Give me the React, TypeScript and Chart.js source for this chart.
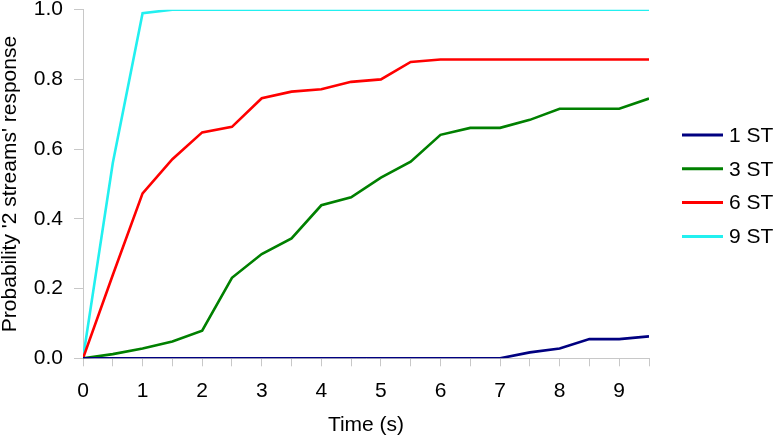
import React, { useEffect, useRef } from 'react';
import { Chart, registerables } from 'chart.js';

Chart.register(...registerables);

const FONT = '"Liberation Sans", Arial, sans-serif';

const times = [0, 0.5, 1, 1.5, 2, 2.5, 3, 3.5, 4, 4.5, 5, 5.5, 6, 6.5, 7, 7.5, 8, 8.5, 9, 9.5];
const seriesLabels = ['1 ST', '3 ST', '6 ST', '9 ST'];
const seriesColors = ['#000080', '#008000', '#ff0000', '#22f0f0'];
const st1 = [0, 0, 0, 0, 0, 0, 0, 0, 0, 0, 0, 0, 0, 0, 0, 0.017, 0.028, 0.055, 0.055, 0.063];
const st3 = [0, 0.012, 0.028, 0.048, 0.079, 0.231, 0.299, 0.344, 0.439, 0.462, 0.518, 0.564, 0.641, 0.661, 0.661, 0.684, 0.716, 0.716, 0.716, 0.745];
const st6 = [0, 0.239, 0.473, 0.571, 0.648, 0.664, 0.746, 0.765, 0.772, 0.793, 0.8, 0.85, 0.857, 0.857, 0.857, 0.857, 0.857, 0.857, 0.857, 0.857];
const st9 = [0, 0.56, 0.99, 1, 1, 1, 1, 1, 1, 1, 1, 1, 1, 1, 1, 1, 1, 1, 1, 1];
const yTitle = "Probability '2 streams' response";
const xTitle = 'Time (s)';

const legendPlugin = {
  id: 'customLegend',
  afterDraw(chart: any) {
    const ctx = chart.ctx;
    ctx.save();
    chart.data.datasets.forEach((ds: any, i: number) => {
      const y = 135 + i * 33.8;
      ctx.strokeStyle = ds.borderColor;
      ctx.lineWidth = 3;
      ctx.beginPath();
      ctx.moveTo(682, y);
      ctx.lineTo(723, y);
      ctx.stroke();
      ctx.fillStyle = '#000';
      ctx.font = `21px ${FONT}`;
      ctx.textBaseline = 'middle';
      ctx.textAlign = 'left';
      ctx.fillText(ds.label, 729, y + 1);
    });
    ctx.restore();
  },
};

export default function App() {
  const ref = useRef<HTMLCanvasElement | null>(null);
  useEffect(() => {
    if (!ref.current) return;
    const all = [st1, st3, st6, st9];
    const chart = new Chart(ref.current, {
      type: 'line',
      data: {
        datasets: all.map((arr, i) => ({
          label: seriesLabels[i],
          data: arr.map((v, j) => ({ x: times[j], y: v })),
          borderColor: seriesColors[i],
          backgroundColor: seriesColors[i],
          borderWidth: 2.6,
          pointRadius: 0,
          tension: 0,
          fill: false,
        })),
      },
      options: {
        animation: false,
        responsive: false,
        layout: { padding: { top: 0, right: 128, left: 0, bottom: 0 } },
        plugins: { legend: { display: false }, tooltip: { enabled: false } },
        scales: {
          x: {
            type: 'linear',
            min: 0,
            max: 9.5,
            afterFit: (s: any) => { s.height = 82.7; },
            grid: { drawOnChartArea: false, drawTicks: true, tickLength: 8, color: '#c8c8c8' },
            border: { display: true, color: '#c8c8c8', width: 1 },
            ticks: {
              stepSize: 0.5,
              autoSkip: false,
              maxRotation: 0,
              padding: 12,
              color: '#000',
              font: { family: FONT, size: 21 },
              callback: (v: any) => (Number.isInteger(Number(v)) ? String(v) : ''),
            },
            title: {
              display: true,
              text: xTitle,
              color: '#000',
              font: { family: FONT, size: 21, lineHeight: 1 },
              padding: { top: 0, bottom: 5 },
            },
          },
          y: {
            type: 'linear',
            min: 0,
            max: 1,
            afterFit: (s: any) => { s.width = 83; s.paddingTop = 9.7; },
            grid: { drawOnChartArea: false, drawTicks: true, tickLength: 9, color: '#c8c8c8' },
            border: { display: true, color: '#c8c8c8', width: 1 },
            ticks: {
              stepSize: 0.2,
              padding: 11,
              color: '#000',
              font: { family: FONT, size: 21 },
              callback: (v: any) => Number(v).toFixed(1),
            },
            title: {
              display: true,
              text: yTitle,
              color: '#000',
              font: { family: FONT, size: 21, lineHeight: 1 },
              padding: { top: 0, bottom: 0 },
            },
          },
        },
      },
      plugins: [legendPlugin],
    } as any);
    return () => chart.destroy();
  }, []);
  return (
    <div style={{ position: 'fixed', left: 0, top: 0, width: 777, height: 441, background: '#fff' }}>
      <canvas ref={ref} width={777} height={441} style={{ width: 777, height: 441 }} />
    </div>
  );
}
